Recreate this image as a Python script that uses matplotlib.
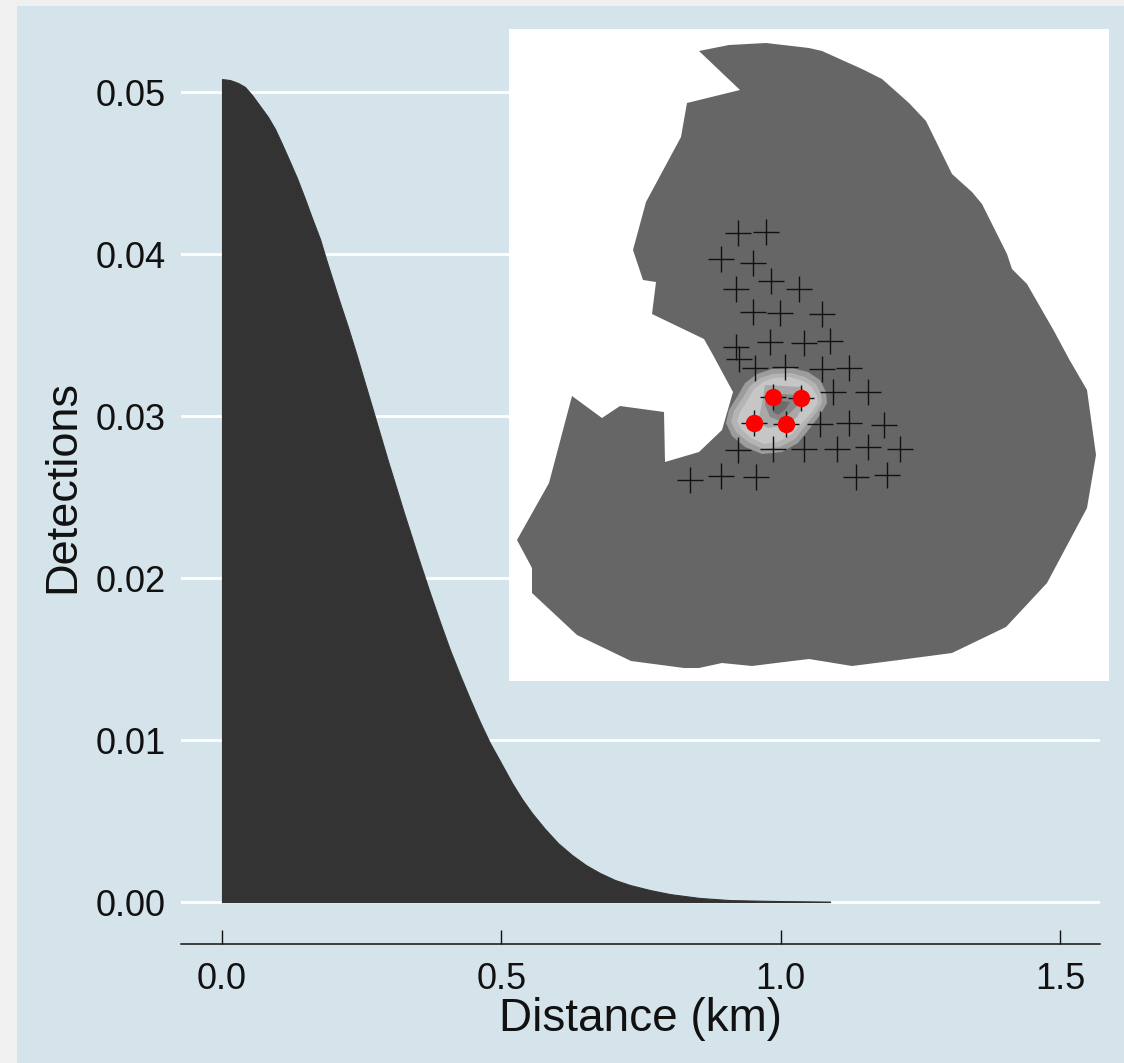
import matplotlib
matplotlib.use("Agg")
import matplotlib.pyplot as plt
from matplotlib.patches import Rectangle, Polygon

# ---- detection function ----
distance_km = [0, .0143, .0286, .0412, .0537, .0680, .0823, .0949, .1074, .1217, .1342, .1486,
               .1611, .1754, .1862, .1987, .2112, .2255, .2399, .2542, .2685, .2828, .2971,
               .3115, .3258, .3401, .3544, .3723, .3902, .4081, .4260, .4439, .4618, .4797,
               .4976, .5191, .5370, .5549, .5782, .6014, .6265, .6515, .6766, .7035, .7303,
               .7661, .8019, .8556, .9093, .9988, 1.0883]
detections = [.05080, .05074, .05056, .05031, .04981, .04914, .04846, .04772, .04679, .04568,
              .04469, .04340, .04222, .04093, .03969, .03833, .03698, .03549, .03389, .03222,
              .03056, .02889, .02722, .02562, .02401, .02247, .02093, .01907, .01728, .01556,
              .01401, .01253, .01111, .00981, .00870, .00735, .00636, .00549, .00451, .00364,
              .00290, .00228, .00179, .00136, .00105, .00074, .00049, .00025, .00012, .00006,
              .00003]
x_ticks = [0.0, 0.5, 1.0, 1.5]
x_tick_labels = ["0.0", "0.5", "1.0", "1.5"]
y_ticks = [0.00, 0.01, 0.02, 0.03, 0.04, 0.05]
y_tick_labels = ["0.00", "0.01", "0.02", "0.03", "0.04", "0.05"]

# ---- inset map (map units) ----
region_x = [699, 729, 766, 809, 822, 862, 882, 909, 926, 952, 972, 982, 1007, 1012, 1027,
            1054, 1069, 1087, 1096, 1087, 1047, 1006, 952, 899, 852, 809, 776, 752, 722,
            699, 684, 631, 577, 532, 532, 517, 549, 572, 602, 620, 664, 665, 699, 722,
            733, 713, 704, 652, 656, 643, 633, 646, 681, 687, 740]
region_y = [51, 45, 43, 48, 51, 69, 79, 103, 121, 174, 192, 204, 254, 269, 284,
            331, 359, 390, 455, 508, 583, 627, 653, 660, 666, 659, 663, 666, 663,
            668, 668, 661, 635, 593, 568, 540, 483, 396, 418, 406, 412, 462, 452, 430,
            392, 355, 339, 314, 282, 280, 250, 202, 137, 103, 90]
trap_x = [738, 766, 721, 753, 771, 799, 736, 753, 780, 822, 736, 770, 804, 830, 739, 755,
          785, 822, 849, 833, 868, 773, 801, 754, 786, 820, 849, 884, 738, 773, 804, 837,
          868, 900, 690, 721, 756, 856, 887]
trap_y = [233, 232, 259, 263, 281, 289, 289, 312, 313, 314, 347, 342, 343, 341, 359, 368,
          367, 369, 368, 392, 392, 397, 398, 423, 424, 424, 423, 425, 450, 449, 449, 449,
          447, 449, 480, 476, 477, 477, 475]
centre_x = [773, 801, 754, 786]
centre_y = [397, 398, 423, 424]

band_1_x = [772, 792, 808, 820, 826, 827, 820, 810, 798, 782, 762, 745, 732, 726, 729, 737, 745, 757]
band_1_y = [369, 368, 372, 380, 392, 403, 415, 428, 443, 452, 454, 447, 436, 423, 410, 397, 383, 374]
band_2_x = [773, 791, 805, 816, 821, 822, 816, 806, 795, 780, 763, 748, 736, 731, 734, 742, 750, 760]
band_2_y = [374, 373, 377, 384, 394, 403, 413, 425, 439, 447, 449, 442, 432, 422, 411, 399, 386, 378]
band_3_x = [774, 790, 803, 812, 817, 818, 812, 802, 791, 778, 764, 751, 741, 737, 740, 747, 754, 763]
band_3_y = [378, 377, 381, 387, 396, 403, 412, 423, 435, 442, 444, 438, 429, 421, 412, 401, 389, 382]
band_4_x = [765, 802, 808, 797, 787, 768, 758, 762]
band_4_y = [385, 387, 398, 417, 425, 428, 423, 403]
band_5_x = [767, 797, 800, 788, 778, 770, 765]
band_5_y = [393, 395, 403, 415, 420, 417, 405]
band_6_x = [772, 790, 785, 778, 773]
band_6_y = [400, 402, 410, 415, 412]
bands = [(band_1_x, band_1_y), (band_2_x, band_2_y), (band_3_x, band_3_y),
         (band_4_x, band_4_y), (band_5_x, band_5_y), (band_6_x, band_6_y)]
band_colors = ["#9c9c9c", "#b4b4b4", "#c6c6c6", "#a8a8a8", "#888888", "#6c6c6c"]

W, H = 1124, 1063
TEXT = "#111111"
plt.rcParams["font.family"] = ["Liberation Sans", "DejaVu Sans"]
fig = plt.figure(figsize=(W / 100, H / 100), dpi=100, facecolor="#f0f0f0")
fig.add_artist(Rectangle((17 / W, 0), (W - 17) / W, (H - 6) / H, transform=fig.transFigure,
                         facecolor="#d5e4eb", edgecolor="none", zorder=-5))


def axes_rect(left, top, right, bottom):
    return [left / W, 1 - bottom / H, (right - left) / W, (bottom - top) / H]


ax = fig.add_axes(axes_rect(181, 70, 1100, 944))
ax.patch.set_visible(False)
ax.set_xlim(-0.0734, 1.5716)
ax.set_ylim(-0.00259, 0.05136)
ax.grid(axis="y", color="white", linewidth=2.0, zorder=1)
ax.set_axisbelow(True)
ax.fill_between(distance_km, detections, 0, facecolor="#333333", edgecolor="#333333",
                linewidth=0.8, zorder=2)
for name in ["top", "right", "left"]:
    ax.spines[name].set_visible(False)
ax.spines["bottom"].set_color(TEXT)
ax.spines["bottom"].set_linewidth(1.1)
ax.set_xticks(x_ticks, x_tick_labels)
ax.set_yticks(y_ticks, y_tick_labels)
ax.tick_params(axis="x", direction="in", length=10, width=1.0, color=TEXT,
               labelsize=26, pad=13, labelcolor=TEXT)
ax.tick_params(axis="y", length=0, labelsize=26, pad=11, labelcolor=TEXT)
ax.set_xlabel("Distance (km)", fontsize=33, color=TEXT)
ax.set_ylabel("Detections", fontsize=32.5, color=TEXT)
ax.xaxis.set_label_coords(0.5, (944 - 997) / 874)
ax.yaxis.set_label_coords((63 - 181) / 919, (944 - 487) / 874)
ax.yaxis.label.set_verticalalignment("center")

inset = fig.add_axes(axes_rect(509, 29, 1109, 681))
inset.set_xlim(509, 1109)
inset.set_ylim(681, 29)
inset.axis("off")
inset.add_patch(Rectangle((509, 29), 600, 652, facecolor="white", edgecolor="none", zorder=0))
inset.add_patch(Polygon(list(zip(region_x, region_y)), closed=True, facecolor="#666666",
                        edgecolor="none", zorder=1))
for (bx, by), colour in zip(bands, band_colors):
    inset.add_patch(Polygon(list(zip(bx, by)), closed=True, facecolor=colour,
                            edgecolor="none", zorder=2))
inset.plot(trap_x, trap_y, linestyle="none", marker="+", markersize=19,
           markeredgewidth=1.0, color="#111111", zorder=3)
inset.plot(centre_x, centre_y, linestyle="none", marker="o", markersize=12.5,
           markeredgewidth=0, color="#ff0000", zorder=4)

fig.savefig("out.png", dpi=100, facecolor=fig.get_facecolor())
